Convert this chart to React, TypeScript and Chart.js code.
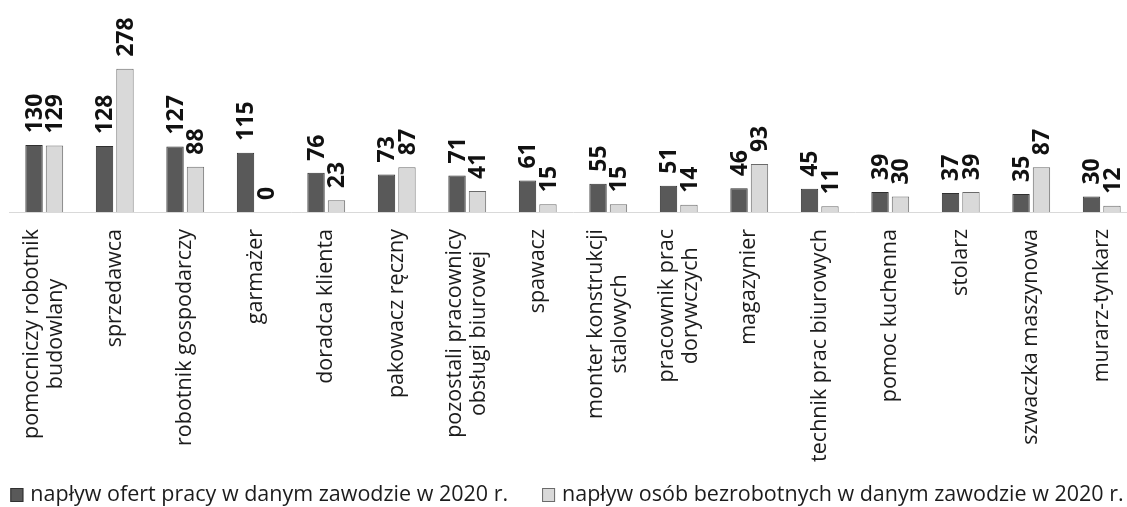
import React, { useEffect, useRef } from 'react';
import { Chart, registerables } from 'chart.js';

Chart.register(...registerables);

// ---- data ----
const categories: string[][] = [
  ['pomocniczy robotnik', 'budowlany'],
  ['sprzedawca'],
  ['robotnik gospodarczy'],
  ['garmażer'],
  ['doradca klienta'],
  ['pakowacz ręczny'],
  ['pozostali pracownicy', 'obsługi biurowej'],
  ['spawacz'],
  ['monter konstrukcji', 'stalowych'],
  ['pracownik prac', 'dorywczych'],
  ['magazynier'],
  ['technik prac biurowych'],
  ['pomoc kuchenna'],
  ['stolarz'],
  ['szwaczka maszynowa'],
  ['murarz-tynkarz'],
];
const offers = [130, 128, 127, 115, 76, 73, 71, 61, 55, 51, 46, 45, 39, 37, 35, 30];
const unemployed = [129, 278, 88, 0, 23, 87, 41, 15, 15, 14, 93, 11, 30, 39, 87, 12];
const seriesLabels = [
  'napływ ofert pracy w danym zawodzie w 2020 r.',
  'napływ osób bezrobotnych w danym zawodzie w 2020 r.',
];
const yMax = 400;

// ---- styles ----
const FONT = '"Open Sans", "Noto Sans", sans-serif';
const DARK_FILL = '#595959';
const DARK_BORDER = '#303030';
const LIGHT_FILL = '#d9d9d9';
const LIGHT_BORDER = '#6a6a6a';
const CANVAS_W = 1140;
const CANVAS_H = 507;

const customDraw = {
  id: 'customDraw',
  afterDatasetsDraw(chart: any) {
    const ctx: CanvasRenderingContext2D = chart.ctx;
    const xScale = chart.scales.x;
    const area = chart.chartArea;

    // data labels
    ctx.save();
    ctx.font = `bold 23px ${FONT}`;
    ctx.fillStyle = '#111111';
    ctx.textAlign = 'left';
    ctx.textBaseline = 'middle';
    chart.data.datasets.forEach((ds: any, di: number) => {
      const meta = chart.getDatasetMeta(di);
      meta.data.forEach((bar: any, i: number) => {
        ctx.save();
        ctx.translate(bar.x, bar.y - 12);
        ctx.rotate(-Math.PI / 2);
        ctx.fillText(String(ds.data[i]), 0, 1);
        ctx.restore();
      });
    });
    ctx.restore();

    // category labels (rotated, lines centred on each other)
    ctx.save();
    ctx.font = `21.5px ${FONT}`;
    ctx.fillStyle = '#1c1c1c';
    ctx.textAlign = 'center';
    ctx.textBaseline = 'middle';
    const labelTop = area.bottom + 17;
    const lineH = 24;
    (chart.data.labels as string[][]).forEach((lines, i) => {
      const x = xScale.getPixelForTick(i);
      const widths = lines.map((l) => ctx.measureText(l).width);
      const maxW = Math.max(...widths);
      const cy = labelTop + maxW / 2;
      lines.forEach((l, j) => {
        const lx = x + (j - (lines.length - 1) / 2) * lineH;
        ctx.save();
        ctx.translate(lx, cy);
        ctx.rotate(-Math.PI / 2);
        ctx.fillText(l, 0, 0);
        ctx.restore();
      });
    });
    ctx.restore();

    // legend
    ctx.save();
    ctx.font = `21.5px ${FONT}`;
    ctx.textBaseline = 'middle';
    ctx.textAlign = 'left';
    const boxW = 13;
    const boxH = 14;
    const boxGap = 7;
    const itemGap = 34;
    const items = chart.data.datasets.map((ds: any) => ({
      text: ds.label as string,
      fill: ds.backgroundColor as string,
      stroke: ds.borderColor as string,
      w: ctx.measureText(ds.label).width,
    }));
    const total =
      items.reduce((s: number, it: any) => s + boxW + boxGap + it.w, 0) + itemGap * (items.length - 1);
    let cx = 567 - total / 2;
    const cyL = 495;
    items.forEach((it: any) => {
      ctx.fillStyle = it.fill;
      ctx.fillRect(cx, cyL - boxH / 2, boxW, boxH);
      ctx.strokeStyle = it.stroke;
      ctx.lineWidth = 1;
      ctx.strokeRect(cx + 0.5, cyL - boxH / 2 + 0.5, boxW - 1, boxH - 1);
      ctx.fillStyle = '#1c1c1c';
      ctx.fillText(it.text, cx + boxW + boxGap, cyL);
      cx += boxW + boxGap + it.w + itemGap;
    });
    ctx.restore();
  },
};

export default function App() {
  const canvasRef = useRef<HTMLCanvasElement | null>(null);

  useEffect(() => {
    if (!canvasRef.current) return;
    const chart = new Chart(canvasRef.current, {
      type: 'bar',
      data: {
        labels: categories as any,
        datasets: [
          {
            label: seriesLabels[0],
            data: offers,
            backgroundColor: DARK_FILL,
            borderColor: DARK_BORDER,
            borderWidth: 1,
            categoryPercentage: 0.58,
            barPercentage: 0.85,
          },
          {
            label: seriesLabels[1],
            data: unemployed,
            backgroundColor: LIGHT_FILL,
            borderColor: LIGHT_BORDER,
            borderWidth: 1,
            categoryPercentage: 0.58,
            barPercentage: 0.85,
          },
        ],
      },
      options: {
        animation: false,
        responsive: false,
        maintainAspectRatio: false,
        devicePixelRatio: 1,
        layout: { padding: { left: 9, right: 3, top: 6, bottom: 0 } },
        plugins: {
          legend: { display: false },
          tooltip: { enabled: false },
        },
        scales: {
          x: {
            grid: { display: false },
            border: { display: true, color: '#d9d9d9', width: 1 },
            ticks: { display: false },
            afterFit: (scale: any) => {
              scale.height = CANVAS_H - 212;
            },
          },
          y: {
            display: false,
            min: 0,
            max: yMax,
          },
        },
      },
      plugins: [customDraw],
    });
    let alive = true;
    if ((document as any).fonts && (document as any).fonts.load) {
      Promise.all([
        (document as any).fonts.load(`21.5px "Open Sans"`),
        (document as any).fonts.load(`bold 23px "Open Sans"`),
      ]).then(() => {
        if (alive) chart.update();
      });
    }
    return () => {
      alive = false;
      chart.destroy();
    };
  }, []);

  return (
    <div
      style={{
        position: 'fixed',
        left: 0,
        top: 0,
        width: 1127,
        height: 507,
        overflow: 'hidden',
        background: '#ffffff',
      }}
    >
      <canvas
        ref={canvasRef}
        width={CANVAS_W}
        height={CANVAS_H}
        style={{ width: CANVAS_W, height: CANVAS_H, display: 'block' }}
      />
    </div>
  );
}
